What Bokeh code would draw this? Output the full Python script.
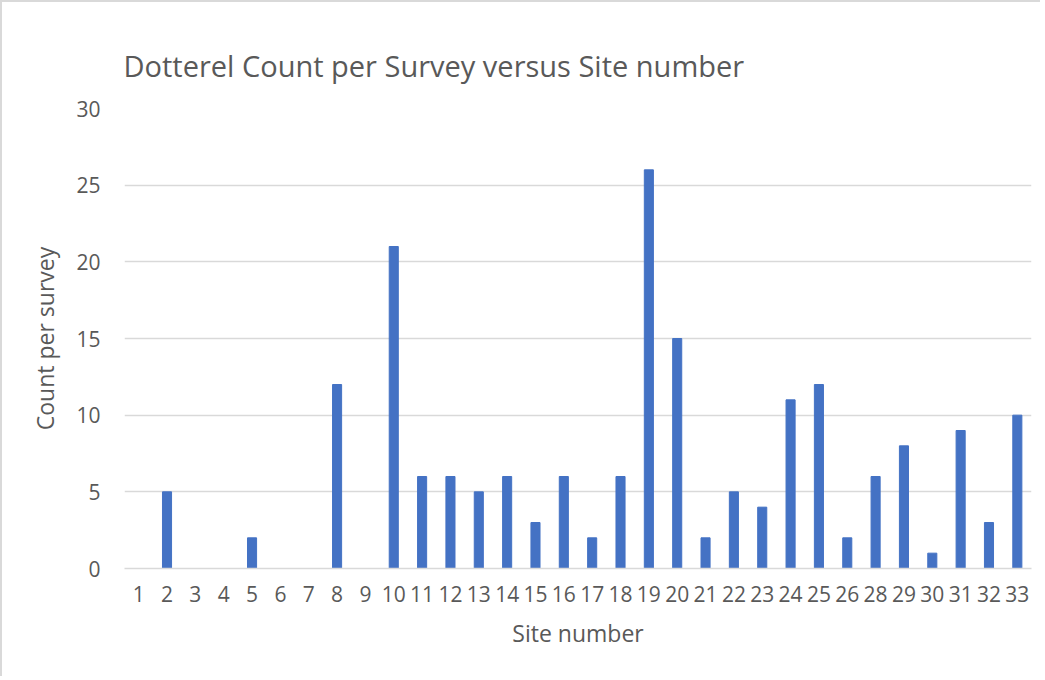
from bokeh.plotting import figure
from bokeh.models import FactorRange, Range1d, FixedTicker, ColumnDataSource
from bokeh.embed import file_html
from bokeh.resources import INLINE

sites = ["1", "2", "3", "4", "5", "6", "7", "8", "9", "10", "11", "12", "13", "14", "15", "16",
         "17", "18", "19", "20", "21", "22", "23", "24", "25", "26", "28", "29", "30", "31", "32", "33"]
counts = [0, 5, 0, 0, 2, 0, 0, 12, 0, 21, 6, 6, 5, 6, 3, 6,
          2, 6, 26, 15, 2, 5, 4, 11, 12, 2, 6, 8, 1, 9, 3, 10]
y_ticks = [0, 5, 10, 15, 20, 25, 30]

FONT = "Open Sans"
GREY = "#595959"

src = ColumnDataSource(dict(site=sites, count=counts))

p = figure(width=1040, height=676, x_range=FactorRange(*sites, range_padding=0),
           y_range=Range1d(0, 30), output_backend="svg", toolbar_location=None,
           min_border_left=122, min_border_right=11, min_border_top=106, min_border_bottom=110,
           title="Dotterel Count per Survey versus Site number")
p.styles = {"border-top": "2px solid #d9d9d9", "border-left": "2px solid #d9d9d9"}
p.outline_line_color = None

p.title.text_font = FONT
p.title.text_font_size = "29px"
p.title.text_font_style = "normal"
p.title.text_color = GREY
p.title.align = "left"
p.title.offset = -1
p.title.standoff = 48

p.vbar(x="site", top="count", width=0.32, source=src, color="#4472C4")

p.xgrid.grid_line_color = None
p.ygrid.grid_line_color = "#d9d9d9"
p.ygrid.grid_line_width = 1.5
p.yaxis.ticker = FixedTicker(ticks=y_ticks)

for ax in (p.xaxis[0], p.yaxis[0]):
    ax.major_tick_line_color = None
    ax.minor_tick_line_color = None
    ax.major_tick_out = 0
    ax.major_tick_in = 0
    ax.major_label_text_font = FONT
    ax.major_label_text_font_size = "21px"
    ax.major_label_text_color = GREY
    ax.axis_label_text_font = FONT
    ax.axis_label_text_font_size = "23px"
    ax.axis_label_text_font_style = "normal"
    ax.axis_label_text_color = GREY

p.yaxis.axis_line_color = None
p.xaxis.axis_line_color = "#d9d9d9"
p.xaxis.axis_line_width = 1.5
p.xaxis.major_label_standoff = 17
p.yaxis.major_label_standoff = 24
p.xaxis.axis_label = "Site number"
p.yaxis.axis_label = "Count per survey"
p.xaxis.axis_label_standoff = 12
p.yaxis.axis_label_standoff = 12

open("out.html", "w").write(file_html(p, INLINE))
